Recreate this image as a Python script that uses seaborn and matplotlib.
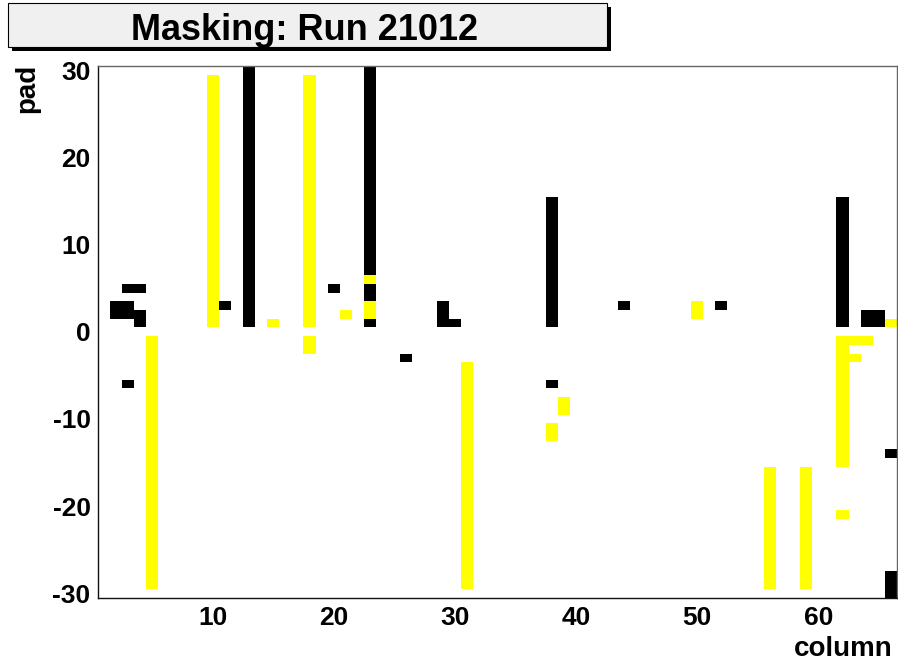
import numpy as np
import pandas as pd
import matplotlib
matplotlib.use("Agg")
import matplotlib.pyplot as plt
from matplotlib.colors import ListedColormap
from matplotlib.patches import Rectangle
import seaborn as sns

# Masked channel runs: column, first pad, last pad (inclusive)
yellow_col = [5, 10, 15, 18, 18, 21, 23, 23, 31, 38, 39, 50, 56, 59, 62, 62, 63, 64, 63, 66]
yellow_lo = [-29, 1, 1, 1, -2, 2, 6, 2, -29, -12, -9, 2, -29, -29, -15, -21, -1, -1, -3, 1]
yellow_hi = [-1, 29, 1, 29, -1, 2, 6, 3, -4, -11, -8, 3, -16, -16, -1, -21, -1, -1, -3, 1]

black_col = [2, 3, 3, 4, 4, 3, 11, 13, 20, 23, 23, 23, 26, 29, 30, 38, 38, 44, 52, 62, 64, 65, 66, 66]
black_lo = [2, 2, 5, 5, 1, -6, 3, 1, 5, 7, 4, 1, -3, 1, 1, 1, -6, 3, 3, 1, 1, 1, -14, -30]
black_hi = [3, 3, 5, 5, 2, -6, 3, 30, 5, 30, 5, 1, -3, 3, 1, 15, -6, 3, 3, 15, 2, 2, -14, -28]

columns = list(range(1, 67))
pads = list(range(30, -31, -1))

# Fill the column x pad grid: 1 = yellow status, 2 = black status
grid = pd.DataFrame(0, index=pads, columns=columns)
for code, cols, los, his in [(1, yellow_col, yellow_lo, yellow_hi),
                              (2, black_col, black_lo, black_hi)]:
    for c, lo, hi in zip(cols, los, his):
        for p in range(lo, hi + 1):
            grid.loc[p, c] = code

sns.set_style("white")
plt.rcParams["font.family"] = ["Liberation Sans", "DejaVu Sans"]
plt.rcParams["font.weight"] = "bold"
plt.rcParams["text.color"] = "black"
plt.rcParams["xtick.color"] = "black"
plt.rcParams["ytick.color"] = "black"
plt.rcParams["xtick.labelcolor"] = "black"
plt.rcParams["ytick.labelcolor"] = "black"

W, H = 898, 664
fig = plt.figure(figsize=(W / 100, H / 100), dpi=100)
ax = fig.add_axes([97.5 / W, 66.5 / H, 799.5 / W, 531.5 / H])

cmap = ListedColormap(["#ffff00", "#000000"])
sns.heatmap(grid, ax=ax, mask=(grid == 0), cmap=cmap, vmin=0.5, vmax=2.5,
            cbar=False, linewidths=0, xticklabels=False, yticklabels=False)

# axis positions: column c sits at c - 0.5, pad p at 30.5 - p
xmaj = [10, 20, 30, 40, 50, 60]
xmin = [v for v in range(2, 67, 2) if v % 10 != 0]
ymaj = [-30, -20, -10, 0, 10, 20, 30]
ymin = [v for v in range(-30, 31, 2) if v % 10 != 0]

ax.set_xticks([v - 0.5 for v in xmaj])
ax.set_xticklabels([str(v) for v in xmaj])
ax.set_xticks([v - 0.5 for v in xmin], minor=True)
ax.set_yticks([30.5 - v for v in ymaj])
ax.set_yticklabels([str(v) for v in ymaj], rotation=0)
ax.set_yticks([30.5 - v for v in ymin], minor=True)

ax.tick_params(axis="x", which="major", direction="in", length=11.5, width=0.9,
               labelsize=19, pad=6, color="#222222", labelcolor="black")
ax.tick_params(axis="x", which="minor", direction="in", length=5.8, width=0.9,
               color="#222222")
ax.tick_params(axis="y", which="major", direction="in", length=17, width=0.9,
               labelsize=19, pad=5, color="#222222", labelcolor="black")
ax.tick_params(axis="y", which="minor", direction="in", length=9, width=0.9,
               color="#222222")
for lab in ax.get_xticklabels() + ax.get_yticklabels():
    lab.set_fontweight("bold")
    lab.set_color("black")

for side, sp in ax.spines.items():
    sp.set_visible(True)
    sp.set_linewidth(1.0)
    sp.set_color("#111111" if side in ("left", "bottom") else "#666666")
ax.set_xlabel("")
ax.set_ylabel("")

# axis titles in the corners
fig.text(893 / W, (H - 656) / H, "column", ha="right", va="baseline",
         fontsize=20, fontweight="bold", color="black")
fig.text(27 / W, (H - 64) / H, "pad", rotation=90, ha="center", va="top",
         fontsize=20, fontweight="bold", color="black")

# title box with drop shadow
fig.patches.append(Rectangle((12 / W, (H - 51) / H), 599 / W, 44 / H,
                             transform=fig.transFigure, facecolor="black",
                             edgecolor="black", linewidth=0))
fig.patches.append(Rectangle((8 / W, (H - 47) / H), 599 / W, 44 / H,
                             transform=fig.transFigure, facecolor="#f0f0f0",
                             edgecolor="black", linewidth=0.8))
fig.text(305 / W, (H - 40) / H, "Masking: Run 21012", ha="center", va="baseline",
         fontsize=26, fontweight="bold", color="black")

fig.savefig("out.png", dpi=100)
